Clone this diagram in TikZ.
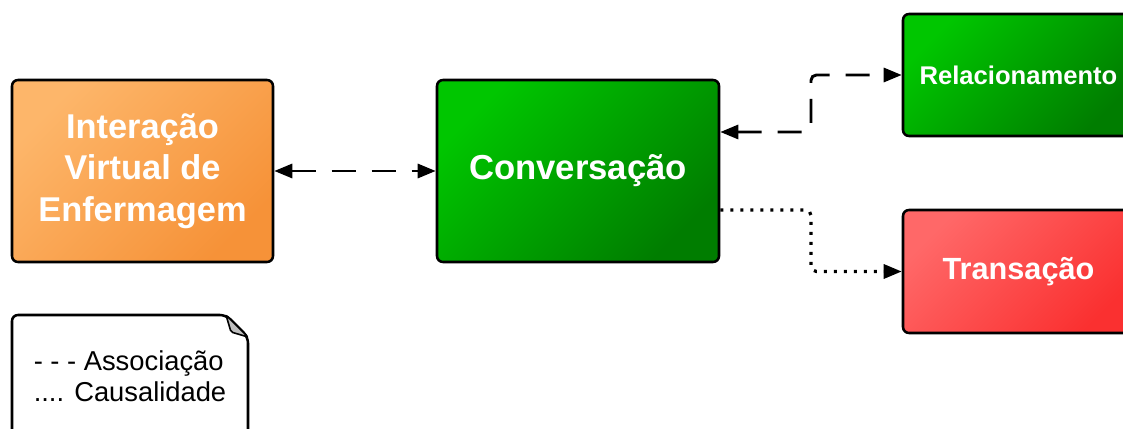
\documentclass[tikz,border=0pt]{standalone}
\usepackage{fontspec}
\setmainfont{Liberation Sans}
\usetikzlibrary{arrows.meta, positioning, calc}
\definecolor{OrangeLight}{RGB}{253, 182, 106}
\definecolor{OrangeDark}{RGB}{246, 146, 56}
\definecolor{GreenLight}{RGB}{0, 198, 0}
\definecolor{GreenDark}{RGB}{0, 125, 0}
\definecolor{RedLight}{RGB}{255, 104, 104}
\definecolor{RedDark}{RGB}{250, 48, 48}
\definecolor{FoldGray}{RGB}{190, 190, 190}

\begin{document}
\begin{tikzpicture}[x=0.75pt, y=0.75pt,
    >={Triangle[length=13.5pt, width=10.5pt]},
    boxnode/.style={draw=black, line width=1.9pt, rounded corners=4.5pt,
        text=white, font=\bfseries, align=center, shading angle=45},
    assoc/.style={line width=2.2pt, dash pattern=on 18pt off 12pt},
    cause/.style={line width=2.4pt, dash pattern=on 2.4pt off 5.1pt}]
            \useasboundingbox (0,0) rectangle (1123,428);

            % Main boxes
            \node[boxnode, top color=OrangeLight, bottom color=OrangeDark, shading angle=45,
                  minimum width=195.75pt, minimum height=136.5pt,
                  font=\bfseries\fontsize{25.8}{31}\selectfont] (inter) at (142.5,257)
                {Interação\\Virtual de\\Enfermagem};
            \node[boxnode, top color=GreenLight, bottom color=GreenDark, shading angle=45,
                  minimum width=211.5pt, minimum height=136.5pt,
                  font=\bfseries\fontsize{26}{30}\selectfont] (conv) at (578,257) {Conversação};
            \node[boxnode, top color=GreenLight, bottom color=GreenDark, shading angle=45,
                  minimum width=173.25pt, minimum height=91.5pt,
                  font=\bfseries\fontsize{19.2}{23}\selectfont] (rel) at (1018.5,353) {Relacionamento};
            \node[boxnode, top color=RedLight, bottom color=RedDark, shading angle=45,
                  minimum width=173.25pt, minimum height=92.25pt,
                  font=\bfseries\fontsize{23}{27}\selectfont] (trans) at (1018.5,156.5) {Transação};

            % Connectors
            \coordinate (turn) at (811,257);
            \draw[assoc, <->] (inter.east) -- (conv.west);
            \draw[assoc, <->, rounded corners=4pt]
                ([yshift=29.25pt]conv.east) -| (turn |- rel.west) -- (rel.west);
            \draw[cause, ->, rounded corners=4pt]
                ([yshift=-29.25pt]conv.east) -| (turn |- trans.west) -- (trans.west);

            % Legend note with folded corner
            \draw[line width=1.9pt, fill=white, rounded corners=4.5pt]
                (12,-20) -- (12,113) -- (226,113) -- (248,91) -- (248,-20);
            \filldraw[fill=FoldGray, line width=1.2pt, rounded corners=1.5pt]
                (226,113) -- (248,91) -- (231,96) -- cycle;
            \node[align=left, font=\fontsize{20.5}{23.25}\selectfont] (legend) at (130,52)
                {- - - Associação\\.... Causalidade};
        \end{tikzpicture}
\end{document}
